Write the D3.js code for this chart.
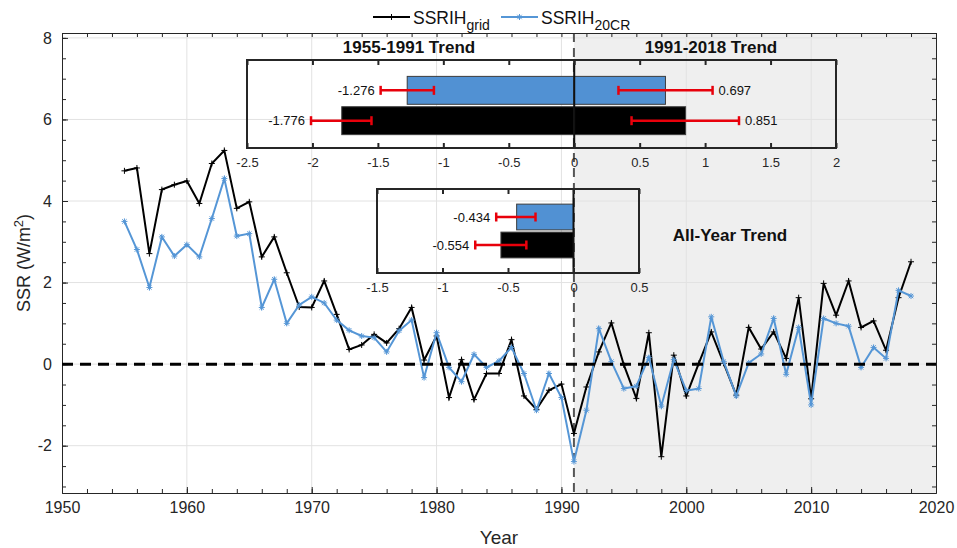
<!DOCTYPE html>
<html>
<head>
<meta charset="utf-8">
<script src="https://cdn.jsdelivr.net/npm/d3@7"></script>
<style>
  body { margin: 0; background: #fff; }
  svg { display: block; font-family: "Liberation Sans", Arial, sans-serif; }
</style>
</head>
<body>
<svg id="chart" width="957" height="548"></svg>
<script>
// ---- data ----
const years = d3.range(1955, 2019);
const ssrGrid = [4.74, 4.81, 2.71, 4.28, 4.40, 4.49, 3.94, 4.92, 5.24, 3.82,
  3.98, 2.63, 3.12, 2.24, 1.40, 1.39, 2.04, 1.22, 0.36, 0.47,
  0.73, 0.52, 0.87, 1.39, 0.10, 0.69, -0.82, 0.11, -0.87, -0.23,
  -0.23, 0.60, -0.78, -1.11, -0.64, -0.49, -1.70, -0.56, 0.30, 1.01,
  -0.02, -0.84, 0.77, -2.27, 0.22, -0.78, 0.02, 0.79, 0.02, -0.76,
  0.90, 0.37, 0.79, 0.14, 1.63, -0.85, 1.98, 1.20, 2.04, 0.90,
  1.06, 0.34, 1.63, 2.51];
const ssr20CR = [3.50, 2.81, 1.88, 3.12, 2.65, 2.93, 2.63, 3.57, 4.55, 3.14,
  3.20, 1.39, 2.08, 1.00, 1.45, 1.65, 1.50, 1.08, 0.83, 0.69,
  0.65, 0.30, 0.82, 1.08, -0.33, 0.77, -0.08, -0.43, 0.24, -0.08,
  0.08, 0.41, -0.23, -1.13, -0.23, -0.82, -2.39, -1.13, 0.87, 0.06,
  -0.60, -0.54, 0.16, -1.03, 0.11, -0.65, -0.60, 1.16, 0.06, -0.78,
  0.03, 0.25, 1.12, -0.25, 0.90, -1.00, 1.12, 1.00, 0.93, -0.08,
  0.41, 0.14, 1.81, 1.67];

const xTicks = [1950, 1960, 1970, 1980, 1990, 2000, 2010, 2020];
const yTicks = [-2, 0, 2, 4, 6, 8];

// trend rows, top to bottom: [20CR, grid]
const rowNames = ["20CR", "grid"];
const trend5591 = [-1.276, -1.776];
const trend9118 = [0.697, 0.851];
const trendAll = [-0.434, -0.554];
const ci5591 = [[-1.479, -1.072], [-2.011, -1.549]];
const ci9118 = [[0.338, 1.057], [0.438, 1.259]];
const ciAll = [[-0.59, -0.29], [-0.75, -0.36]];
const inset1Ticks = [-2.5, -2, -1.5, -1, -0.5, 0, 0.5, 1, 1.5, 2];
const inset2Ticks = [-1.5, -1, -0.5, 0, 0.5];

// ---- setup ----
const svg = d3.select("#chart");
const ink = "#262626";
const blue = "#5596d6";
const barBlue = "#5191d3";
const m = { l: 62, r: 936, t: 33, b: 493 };
const loc = d3.formatLocale({ decimal: ".", thousands: ",", grouping: [3], currency: ["", ""], minus: "-" });
const fmtTick = loc.format("");
const fmtVal = loc.format(".3f");

const x = d3.scaleLinear().domain([1950, 2020]).range([m.l, m.r]);
const y = d3.scaleLinear().domain([-3.16, 8.12]).range([m.b, m.t]);

// shaded post-1991 period
svg.append("rect")
  .attr("x", x(1991)).attr("y", m.t)
  .attr("width", x(2020) - x(1991)).attr("height", m.b - m.t)
  .attr("fill", "#efefef");

// grid
svg.append("g").selectAll("line").data(xTicks.slice(1, -1)).join("line")
  .attr("x1", d => x(d)).attr("x2", d => x(d))
  .attr("y1", m.t).attr("y2", m.b)
  .attr("stroke", "#e2e2e2").attr("stroke-width", 1);
svg.append("g").selectAll("line").data(yTicks).join("line")
  .attr("x1", m.l).attr("x2", m.r)
  .attr("y1", d => y(d)).attr("y2", d => y(d))
  .attr("stroke", "#e2e2e2").attr("stroke-width", 1);

// vertical dashed line at 1991
svg.append("line")
  .attr("x1", x(1991)).attr("x2", x(1991))
  .attr("y1", m.t).attr("y2", m.b)
  .attr("stroke", "#555").attr("stroke-width", 2)
  .attr("stroke-dasharray", "9,6");

// ---- axes (MATLAB style: inward ticks, full box) ----
function styleAxis(g) {
  g.select(".domain").attr("stroke", ink).attr("stroke-width", 1);
  g.selectAll(".tick line").attr("stroke", ink);
  g.selectAll("text").attr("fill", ink).attr("font-size", 16);
}
const minorX = d3.range(1950, 2021, 2);
const minorY = d3.range(-3, 8.01, 0.5);

svg.append("g").attr("transform", `translate(0,${m.b})`)
  .call(d3.axisBottom(x).tickValues(minorX).tickFormat("").tickSize(-4).tickSizeOuter(0))
  .call(styleAxis);
svg.append("g").attr("transform", `translate(0,${m.b})`)
  .call(d3.axisBottom(x).tickValues(xTicks).tickFormat(d3.format("d")).tickSize(-6).tickSizeOuter(0).tickPadding(9))
  .call(styleAxis);
svg.append("g").attr("transform", `translate(0,${m.t})`)
  .call(d3.axisTop(x).tickValues(minorX).tickFormat("").tickSize(-4).tickSizeOuter(0))
  .call(styleAxis);
svg.append("g").attr("transform", `translate(${m.l},0)`)
  .call(d3.axisLeft(y).tickValues(minorY).tickFormat("").tickSize(-4).tickSizeOuter(0))
  .call(styleAxis);
svg.append("g").attr("transform", `translate(${m.l},0)`)
  .call(d3.axisLeft(y).tickValues(yTicks).tickFormat(fmtTick).tickSize(-6).tickSizeOuter(0).tickPadding(10))
  .call(styleAxis);
svg.append("g").attr("transform", `translate(${m.r},0)`)
  .call(d3.axisRight(y).tickValues(minorY).tickFormat("").tickSize(-4).tickSizeOuter(0))
  .call(styleAxis);

// axis labels
svg.append("text").attr("x", (m.l + m.r) / 2).attr("y", 544)
  .attr("text-anchor", "middle").attr("font-size", 19).attr("fill", ink).text("Year");
const yl = svg.append("text")
  .attr("transform", `translate(30,${(m.t + m.b) / 2}) rotate(-90)`)
  .attr("text-anchor", "middle").attr("font-size", 18).attr("fill", ink);
yl.append("tspan").text("SSR (W/m");
yl.append("tspan").attr("dy", -7).attr("font-size", 13).text("2");
yl.append("tspan").attr("dy", 7).text(")");

// ---- inset bar charts ----
function drawInset(cfg) {
  const [top, bot] = cfg.yr;
  const xs = d3.scaleLinear().domain(cfg.domain).range(cfg.xr);
  const ys = d3.scaleLinear().domain([0, cfg.yMax]).range([top, bot]);
  const g = svg.append("g");
  const bh = ys(0.92) - ys(0);
  const rows = rowNames.map((n, i) => ({ i, n }));

  cfg.parts.forEach(p => {
    g.append("g").selectAll("rect").data(rows).join("rect")
      .attr("x", d => xs(Math.min(0, p.vals[d.i])))
      .attr("width", d => Math.abs(xs(p.vals[d.i]) - xs(0)))
      .attr("y", d => ys(d.i + 1) - bh / 2)
      .attr("height", bh)
      .attr("fill", d => d.n === "grid" ? "#000" : barBlue)
      .attr("stroke", "#3c3c3c").attr("stroke-width", 1);
  });
  // baseline at zero
  g.append("line").attr("x1", xs(0)).attr("x2", xs(0))
    .attr("y1", top).attr("y2", bot)
    .attr("stroke", "#111").attr("stroke-width", 2);

  cfg.parts.forEach(p => {
    const eb = g.append("g").selectAll("g").data(rows).join("g")
      .attr("transform", d => `translate(0,${ys(d.i + 1)})`)
      .attr("stroke", "#e8000b").attr("stroke-width", 2.5);
    eb.append("line").attr("x1", d => xs(p.ci[d.i][0])).attr("x2", d => xs(p.ci[d.i][1]));
    eb.append("line").attr("x1", d => xs(p.ci[d.i][0])).attr("x2", d => xs(p.ci[d.i][0]))
      .attr("y1", -4.5).attr("y2", 4.5);
    eb.append("line").attr("x1", d => xs(p.ci[d.i][1])).attr("x2", d => xs(p.ci[d.i][1]))
      .attr("y1", -4.5).attr("y2", 4.5);
    g.append("g").selectAll("text").data(rows).join("text")
      .attr("x", d => p.vals[d.i] < 0 ? xs(p.ci[d.i][0]) - 6 : xs(p.ci[d.i][1]) + 6)
      .attr("y", d => ys(d.i + 1)).attr("dy", "0.35em")
      .attr("text-anchor", d => p.vals[d.i] < 0 ? "end" : "start")
      .attr("font-size", 13).attr("fill", "#111")
      .text(d => fmtVal(p.vals[d.i]));
  });

  // box and ticks
  g.append("rect").attr("x", cfg.xr[0]).attr("y", top)
    .attr("width", cfg.xr[1] - cfg.xr[0]).attr("height", bot - top)
    .attr("fill", "none").attr("stroke", ink).attr("stroke-width", 2);
  const tb = g.append("g").attr("transform", `translate(0,${bot})`)
    .call(d3.axisBottom(xs).tickValues(cfg.ticks).tickSize(-5).tickSizeOuter(0).tickPadding(10)
      .tickFormat(fmtTick));
  tb.select(".domain").remove();
  tb.selectAll(".tick line").attr("stroke", ink).attr("stroke-width", 2);
  tb.selectAll("text").attr("fill", ink).attr("font-size", 13);
  const tt = g.append("g").attr("transform", `translate(0,${top})`)
    .call(d3.axisTop(xs).tickValues(cfg.ticks).tickSize(-5).tickSizeOuter(0).tickFormat(""));
  tt.select(".domain").remove();
  tt.selectAll(".tick line").attr("stroke", ink).attr("stroke-width", 2);
}

drawInset({
  domain: [-2.5, 2], xr: [247, 836], yMax: 2.9, yr: [60, 148], ticks: inset1Ticks,
  parts: [{ vals: trend5591, ci: ci5591 }, { vals: trend9118, ci: ci9118 }]
});
drawInset({
  domain: [-1.5, 0.5], xr: [377, 639], yMax: 3, yr: [189, 273], ticks: inset2Ticks,
  parts: [{ vals: trendAll, ci: ciAll }]
});

svg.append("text").attr("x", 409).attr("y", 53).attr("text-anchor", "middle")
  .attr("font-size", 17).attr("font-weight", "bold").attr("fill", "#111").text("1955-1991 Trend");
svg.append("text").attr("x", 711).attr("y", 53).attr("text-anchor", "middle")
  .attr("font-size", 17).attr("font-weight", "bold").attr("fill", "#111").text("1991-2018 Trend");
svg.append("text").attr("x", 730).attr("y", 241).attr("text-anchor", "middle")
  .attr("font-size", 17).attr("font-weight", "bold").attr("fill", "#111").text("All-Year Trend");

// ---- time series ----
const plus = "M-3,0H3M0,-3V3";
const star = "M-3,0H3M0,-3V3M-2.2,-2.2L2.2,2.2M-2.2,2.2L2.2,-2.2";
const line = d3.line().x(d => x(d[0])).y(d => y(d[1]));
const series = [
  { vals: ssrGrid, color: "#000", marker: plus },
  { vals: ssr20CR, color: blue, marker: star }
];
series.forEach(s => {
  const pts = years.map((yr, i) => [yr, s.vals[i]]);
  svg.append("path").datum(pts).attr("d", line)
    .attr("fill", "none").attr("stroke", s.color).attr("stroke-width", 2);
  svg.append("g").selectAll("path").data(pts).join("path")
    .attr("transform", d => `translate(${x(d[0])},${y(d[1])})`)
    .attr("d", s.marker).attr("stroke", s.color).attr("stroke-width", 1).attr("fill", "none");
});

// zero line
svg.append("line").attr("x1", m.l).attr("x2", m.r)
  .attr("y1", y(0)).attr("y2", y(0))
  .attr("stroke", "#000").attr("stroke-width", 3).attr("stroke-dasharray", "11,7");

// ---- legend ----
const legend = [
  { name: "grid", color: "#000", marker: plus, x0: 373 },
  { name: "20CR", color: blue, marker: star, x0: 501 }
];
const lg = svg.append("g").selectAll("g").data(legend).join("g")
  .attr("transform", d => `translate(${d.x0},17)`);
lg.append("line").attr("x1", 0).attr("x2", 37)
  .attr("stroke", d => d.color).attr("stroke-width", 2);
lg.append("path").attr("transform", "translate(18.5,0)").attr("d", d => d.marker)
  .attr("stroke", d => d.color).attr("fill", "none");
const lt = lg.append("text").attr("x", 40).attr("y", 6.5)
  .attr("font-size", 17.5).attr("fill", "#111");
lt.append("tspan").text("SSRIH");
lt.append("tspan").attr("dy", 6).attr("font-size", 14).text(d => d.name);
</script>
</body>
</html>
